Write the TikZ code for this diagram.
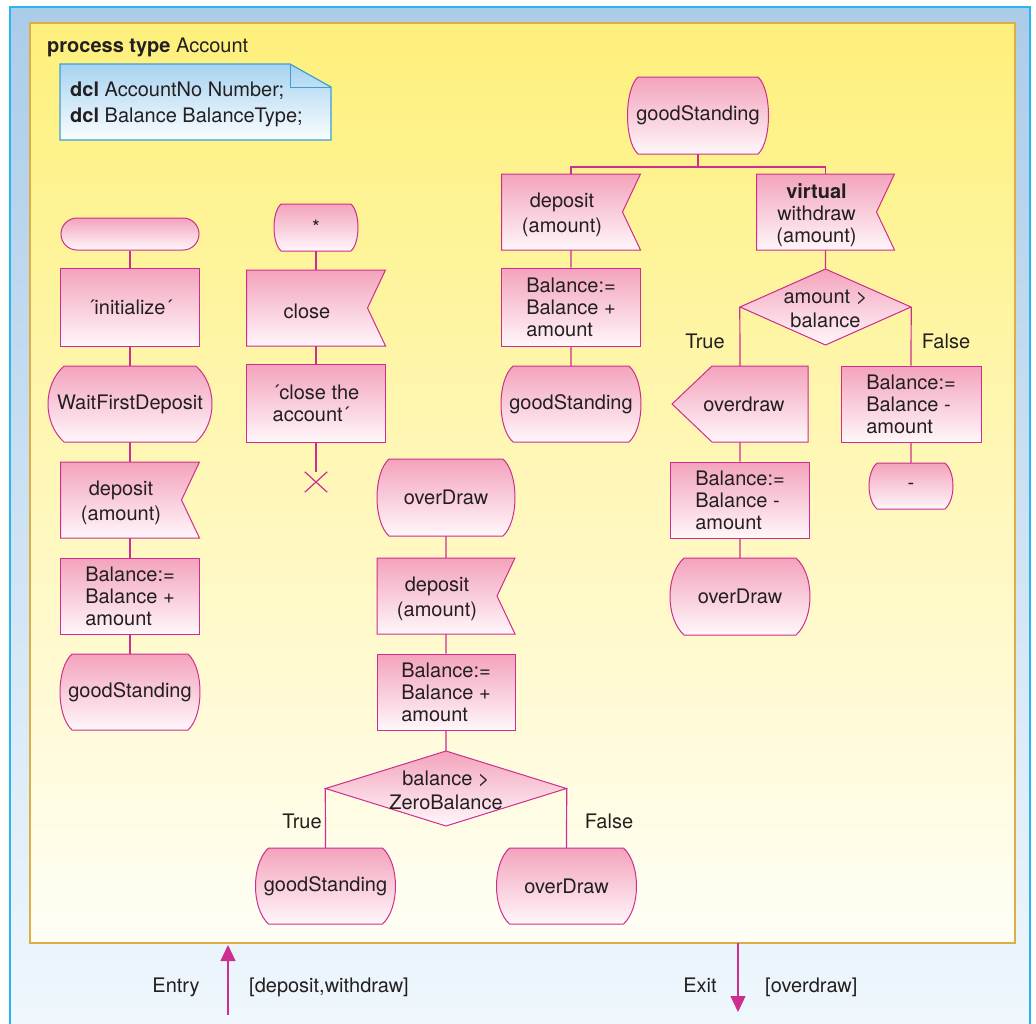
\documentclass[tikz,border=0pt]{standalone}
\usepackage{fontspec}
\setmainfont{TeX Gyre Heros}
\usetikzlibrary{arrows.meta}

\definecolor{outerTop}{HTML}{ABCCE9}
\definecolor{outerBot}{HTML}{F0F8FD}
\definecolor{outerLine}{HTML}{2BB5EE}
\definecolor{yelTop}{HTML}{FEF07B}
\definecolor{yelMid}{HTML}{FEF6B2}
\definecolor{yelBot}{HTML}{FFFEF6}
\definecolor{yelLine}{HTML}{DDAE45}
\definecolor{pinkTop}{HTML}{F3A3BC}
\definecolor{pinkBot}{HTML}{FFF7FA}
\definecolor{mag}{HTML}{CD2E8F}
\definecolor{noteTop}{HTML}{A7D3F0}
\definecolor{noteBot}{HTML}{FAFDFF}
\definecolor{noteLine}{HTML}{3B9FD9}
\definecolor{ink}{HTML}{231F20}

\newcommand{\diagfont}{\fontsize{20}{22}\selectfont}

\tikzset{
  sdlshape/.style={draw=mag, line width=1pt, top color=pinkTop, bottom color=pinkBot},
  box/.style={sdlshape, inner sep=0pt, minimum width=139pt, minimum height=78pt,
    align=left, text=ink, font=\diagfont},
  slot/.style={inner sep=0pt, text=ink, font=\diagfont, align=center},
  lbl/.style={inner sep=0pt, text=ink, font=\diagfont},
  link/.style={draw=mag, line width=1.2pt},
  flow/.style={link, -{Triangle[length=16pt,width=15pt]}},
}

% SDL state: flat top and bottom, bulging sides
% #1 name, #2 cx, #3 cy, #4 flat half width, #5 bulge, #6 half height, #7 text
\newcommand{\sdlstate}[7]{%
  \path[sdlshape] ({#2-#4},{#3-#6}) -- ({#2+#4},{#3-#6})
    .. controls ({#2+#4+1.333*#5},{#3-#6+1.2*#5}) and ({#2+#4+1.333*#5},{#3+#6-1.2*#5}) .. ({#2+#4},{#3+#6})
    -- ({#2-#4},{#3+#6})
    .. controls ({#2-#4-1.333*#5},{#3+#6-1.2*#5}) and ({#2-#4-1.333*#5},{#3-#6+1.2*#5}) .. cycle;
  \node[slot, minimum width={2*(#4+#5)}, minimum height={2*#6}] (#1) at (#2,#3) {#7};
}

% SDL input: box with a notch on the right
% #1 name, #2 cx, #3 cy, #4 half width, #5 half height, #6 notch depth, #7 text
\newcommand{\sdlinput}[7]{%
  \path[sdlshape] ({#2-#4},{#3-#5}) -- ({#2+#4},{#3-#5}) -- ({#2+#4-#6},#3)
    -- ({#2+#4},{#3+#5}) -- ({#2-#4},{#3+#5}) -- cycle;
  \node[slot, minimum width={2*#4}, minimum height={2*#5}] (#1) at (#2,#3) {};
  \node[slot] (#1-text) at ({#2-#6/2},{#3+3}) {#7};
}

% SDL output: box pointing left
% #1 name, #2 cx, #3 cy, #4 half width, #5 half height, #6 point depth, #7 text
\newcommand{\sdloutput}[7]{%
  \path[sdlshape] ({#2-#4+#6},{#3-#5}) -- ({#2+#4},{#3-#5}) -- ({#2+#4},{#3+#5})
    -- ({#2-#4+#6},{#3+#5}) -- ({#2-#4},#3) -- cycle;
  \node[slot, minimum width={2*#4}, minimum height={2*#5}] (#1) at (#2,#3) {};
  \node[slot] (#1-text) at ({#2+4},#3) {#7};
}

% SDL decision: diamond
% #1 name, #2 cx, #3 cy, #4 half width, #5 half height, #6 text
\newcommand{\sdldecision}[6]{%
  \path[sdlshape] (#2,{#3-#5}) -- ({#2+#4},#3) -- (#2,{#3+#5}) -- ({#2-#4},#3) -- cycle;
  \node[slot, minimum width={2*#4}, minimum height={2*#5}] (#1) at (#2,#3) {};
  \node[slot] (#1-text) at (#2,{#3+1.5}) {#6};
}

\begin{document}
\begin{tikzpicture}[x=1pt, y=-1pt]
\useasboundingbox (0,0) rectangle (1036,1023);
\fill[white] (0,0) rectangle (1036,1023);
\clip (0,0) rectangle (1036,1023);

% frames
\path[top color=outerTop, bottom color=outerBot] (10,7) rectangle (1030,1040);
\draw[outerLine, line width=1.5pt] (10,7) rectangle (1030,1040);
\path[top color=yelTop, middle color=yelMid, bottom color=yelBot] (30,23) rectangle (1015,943);
\draw[yelLine, line width=1.4pt] (30,23) rectangle (1015,943);

\node[lbl, anchor=base west] (title) at (47,52) {\textbf{process type} Account};

% declarations
\path[draw=noteLine, line width=1.2pt, top color=noteTop, bottom color=noteBot]
  (60,64) -- (290,64) -- (331,87) -- (331,140) -- (60,140) -- cycle;
\draw[noteLine, line width=0.8pt] (290,64) -- (290,87) -- (331,87);
\node[lbl, anchor=west, align=left] (dcls) at (70,104)
  {\textbf{dcl} AccountNo Number;\\[4pt]\textbf{dcl} Balance BalanceType;};

% start transition
\node[box, rounded corners=16pt, minimum width=138pt, minimum height=32pt] (start) at (130,234) {};
\node[box, minimum height=78pt] (init) at (130,307) {´initialize´};
\sdlstate{wait}{130}{404}{66}{16}{38}{WaitFirstDeposit}
\sdlinput{dep1}{130}{500}{69.5}{38}{18}{deposit\\[3pt](amount)}
\node[box, minimum height=76pt] (bal1) at (130,596) {Balance:=\\Balance +\\amount};
\sdlstate{good1}{130}{692}{58}{12}{38}{goodStanding}
\draw[link] (start.south) -- (init.north) (init.south) -- (wait.north)
  (wait.south) -- (dep1.north) (dep1.south) -- (bal1.north) (bal1.south) -- (good1.north);

% close from any state
\sdlstate{any}{316}{227.5}{35}{7}{23.5}{*}
\sdlinput{close}{316}{308}{69.5}{38}{18}{close}
\node[box, minimum height=78pt] (closeAcc) at (316,403) {´close the\\account´};
\node[slot, minimum width=22pt, minimum height=20pt] (stop) at (316,482) {};
\draw[link] (stop.north west) -- (stop.south east) (stop.north east) -- (stop.south west);
\draw[link] (any.south) -- (close.north) (close.south) -- (closeAcc.north)
  (closeAcc.south) -- (stop.north);

% overDraw: deposit
\sdlstate{over1}{446}{497.5}{57}{12}{38.5}{overDraw}
\sdlinput{dep2}{446}{596}{69}{38}{18}{deposit\\[3pt](amount)}
\node[box, minimum width=138pt, minimum height=76pt] (bal2) at (446,692) {Balance:=\\Balance +\\amount};
\sdldecision{dec2}{446}{788.5}{120.5}{37.5}{balance >\\[2pt]ZeroBalance}
\sdlstate{good3}{325.5}{886}{57}{13}{38}{goodStanding}
\sdlstate{over3}{566.5}{886}{57}{13}{38}{overDraw}
\draw[link] (over1.south) -- (dep2.north) (dep2.south) -- (bal2.north)
  (bal2.south) -- (dec2.north)
  (dec2.west) -- (good3.north) (dec2.east) -- (over3.north);
\node[lbl, anchor=base] (t2) at (302,828) {True};
\node[lbl, anchor=base] (f2) at (609,828) {False};

% goodStanding: deposit and withdraw
\sdlstate{good2}{698}{115.5}{60}{10.5}{38.5}{goodStanding}
\coordinate (fork) at (698,167);
\sdlinput{dep3}{571}{212}{69.5}{38}{18}{deposit\\[3pt](amount)}
\node[box] (bal3) at (571,307) {Balance:=\\Balance +\\amount};
\sdlstate{good4}{571}{404}{58}{12}{38}{goodStanding}
\sdlinput{wd}{825.5}{212}{69}{38}{18}{\textbf{virtual}\\withdraw\\(amount)}
\sdldecision{dec1}{825.5}{307}{85.5}{38}{amount >\\[2pt]balance}
\sdloutput{od}{740}{404}{68}{38}{40}{overdraw}
\node[box, minimum height=76pt] (bal4) at (740,500) {Balance:=\\Balance -\\amount};
\sdlstate{over2}{740}{596.5}{56}{14}{38.5}{overDraw}
\node[box, minimum width=140pt, minimum height=76pt] (bal5) at (911,404) {Balance:=\\Balance -\\amount};
\sdlstate{dash}{911}{486}{34}{8}{23}{-}
\draw[link] (good2.south) -- (fork) -| (dep3.north);
\draw[link] (fork) -| (wd.north);
\draw[link] (dep3.south) -- (bal3.north) (bal3.south) -- (good4.north)
  (wd.south) -- (dec1.north)
  (dec1.west) -- (od.north) (od.south) -- (bal4.north) (bal4.south) -- (over2.north)
  (dec1.east) -- (bal5.north) (bal5.south) -- (dash.north);
\node[lbl, anchor=base] (t1) at (705,348) {True};
\node[lbl, anchor=base] (f1) at (946,348) {False};

% gates
\coordinate (entryTail) at (228,1015);
\coordinate (entryTip) at (228,945);
\draw[flow] (entryTail) -- (entryTip);
\coordinate (exitTail) at (738,943);
\coordinate (exitTip) at (738,1012);
\draw[flow] (exitTail) -- (exitTip);
\node[lbl, anchor=base] (entryLbl) at (176,992) {Entry};
\node[lbl, anchor=base west] (entrySig) at (249,992) {[deposit,withdraw]};
\node[lbl, anchor=base] (exitLbl) at (700,992) {Exit};
\node[lbl, anchor=base west] (exitSig) at (765,992) {[overdraw]};
\end{tikzpicture}
\end{document}
